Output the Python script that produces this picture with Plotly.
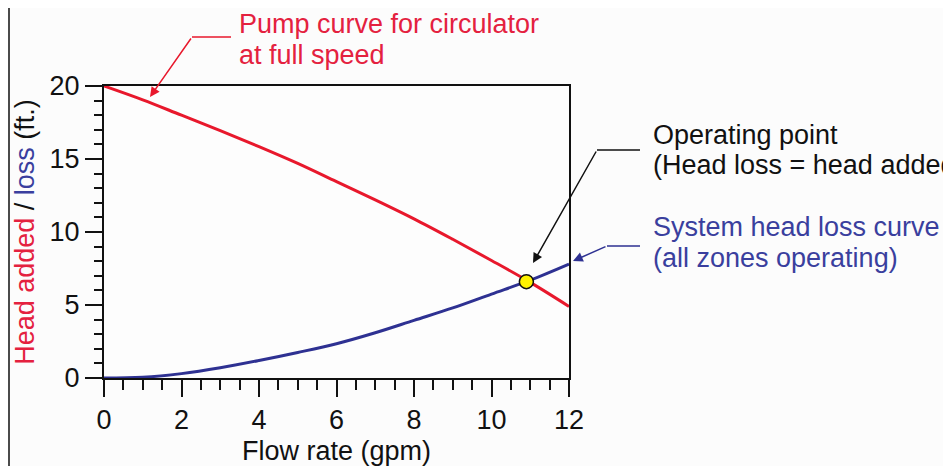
import plotly.graph_objects as go

# values
FLOW_GPM = [0, 1, 2, 3, 4, 5, 6, 7, 8, 9, 10, 11, 12]
PUMP_HEAD_FT = [20.0, 19.05, 18.0, 16.95, 15.85, 14.7, 13.45, 12.2, 10.9, 9.5, 8.05, 6.55, 4.9]
SYSTEM_LOSS_FT = [0.0, 0.05, 0.3, 0.7, 1.2, 1.75, 2.35, 3.1, 3.95, 4.8, 5.75, 6.7, 7.8]
OP_FLOW = [10.9]
OP_HEAD = [6.6]
X_TICKS = [0, 2, 4, 6, 8, 10, 12]
Y_TICKS = [0, 5, 10, 15, 20]

RED = "#E8182C"
RED_TEXT = "#E4213F"
BLUE = "#2E3192"
BLUE_TEXT = "#3A3F9E"
INK = "#111111"
FONT = "Liberation Sans, Arial, Helvetica, sans-serif"
FS = 27

# the page body adds an 8px margin, so the figure is a bit smaller and shifted
OFF = 8
W, H = 951 - 2 * OFF, 474 - 2 * OFF
L, R, T, B = 104, 569, 86, 378  # plot area in page pixels


def px(x):
    return (x - L) / (R - L)


def py(y):
    return (B - y) / (B - T)


fig = go.Figure()

fig.add_trace(
    go.Scatter(
        x=FLOW_GPM, y=PUMP_HEAD_FT, mode="lines", line_shape="spline",
        line=dict(color=RED, width=3), hoverinfo="skip", cliponaxis=False,
    )
)
fig.add_trace(
    go.Scatter(
        x=FLOW_GPM, y=SYSTEM_LOSS_FT, mode="lines", line_shape="spline",
        line=dict(color=BLUE, width=3), hoverinfo="skip", cliponaxis=False,
    )
)
fig.add_trace(
    go.Scatter(
        x=OP_FLOW, y=OP_HEAD, mode="markers",
        marker=dict(size=14, color="#FFF200", line=dict(color=INK, width=1.5)),
        hoverinfo="skip", cliponaxis=False,
    )
)

labels = [
    ("Pump curve for circulator", 238, 24, RED_TEXT),
    ("at full speed", 238, 55, RED_TEXT),
    ("Operating point", 652, 135, INK),
    ("(Head loss = head added)", 652, 165, INK),
    ("System head loss curve", 652, 227, BLUE_TEXT),
    ("(all zones operating)", 652, 258, BLUE_TEXT),
]
ann = []
for text, x, y, col in labels:
    ann.append(dict(xref="paper", yref="paper", x=px(x), y=py(y), xanchor="left", yanchor="middle",
                    showarrow=False, borderpad=0, font=dict(color=col, size=FS, family=FONT), text=text))

# pointer arrows (tip, then pixel offset to the bend)
arrows = [
    ((150, 97), (42, -60), RED),
    ((533, 263), (64, -113), INK),
    ((573, 261), (34, -15), BLUE),
]
for (tx, ty), (ox, oy), col in arrows:
    ann.append(dict(xref="paper", yref="paper", x=px(tx), y=py(ty), ax=ox, ay=oy, text="",
                    showarrow=True, arrowhead=2, arrowsize=1.3, arrowwidth=1.5,
                    arrowcolor=col, standoff=0, startstandoff=0))

shapes = []
# horizontal leader segments
for (x0, x1, y), col in [((192, 231, 37), RED), ((597, 640, 150), INK), ((607, 640, 246), BLUE)]:
    shapes.append(dict(type="line", xref="paper", yref="paper", x0=px(x0), x1=px(x1),
                       y0=py(y), y1=py(y), line=dict(color=col, width=1.5)))
# left border of the original figure
shapes.append(dict(type="line", xref="paper", yref="paper", x0=px(OFF + 1), x1=px(OFF + 1),
                   y0=py(OFF), y1=py(474), line=dict(color=INK, width=1.5)))

y_title = (
    f"<span style='color:{RED_TEXT}'>Head added</span> / "
    f"<span style='color:{BLUE_TEXT}'>loss</span> (ft.)"
)

fig.update_xaxes(
    range=[0, 12], tickvals=X_TICKS, ticks="outside", ticklen=17, tickwidth=2, tickcolor=INK,
    minor=dict(dtick=0.5, ticks="outside", ticklen=10, tickwidth=2, tickcolor=INK),
    showline=True, linecolor=INK, linewidth=2, mirror=True, showgrid=False, zeroline=False,
    tickfont=dict(size=FS, family=FONT, color=INK),
    title=dict(text="Flow rate (gpm)", font=dict(size=FS, family=FONT, color=INK), standoff=9),
)
fig.update_yaxes(
    range=[0, 20], tickvals=Y_TICKS, ticks="outside", ticklen=17, tickwidth=2, tickcolor=INK,
    minor=dict(dtick=1, ticks="outside", ticklen=8, tickwidth=2, tickcolor=INK),
    showline=True, linecolor=INK, linewidth=2, mirror=True, showgrid=False, zeroline=False,
    tickfont=dict(size=FS, family=FONT, color=INK),
    title=dict(text=y_title, font=dict(size=FS, family=FONT, color=INK), standoff=7),
)

fig.update_layout(
    width=W, height=H,
    margin=dict(l=L - OFF, r=W - (R - OFF), t=T - OFF, b=H - (B - OFF), autoexpand=False),
    paper_bgcolor="#FCFCFC", plot_bgcolor="#FDFDFD",
    showlegend=False, annotations=ann, shapes=shapes,
    font=dict(family=FONT),
)

fig.write_html("out.html")
